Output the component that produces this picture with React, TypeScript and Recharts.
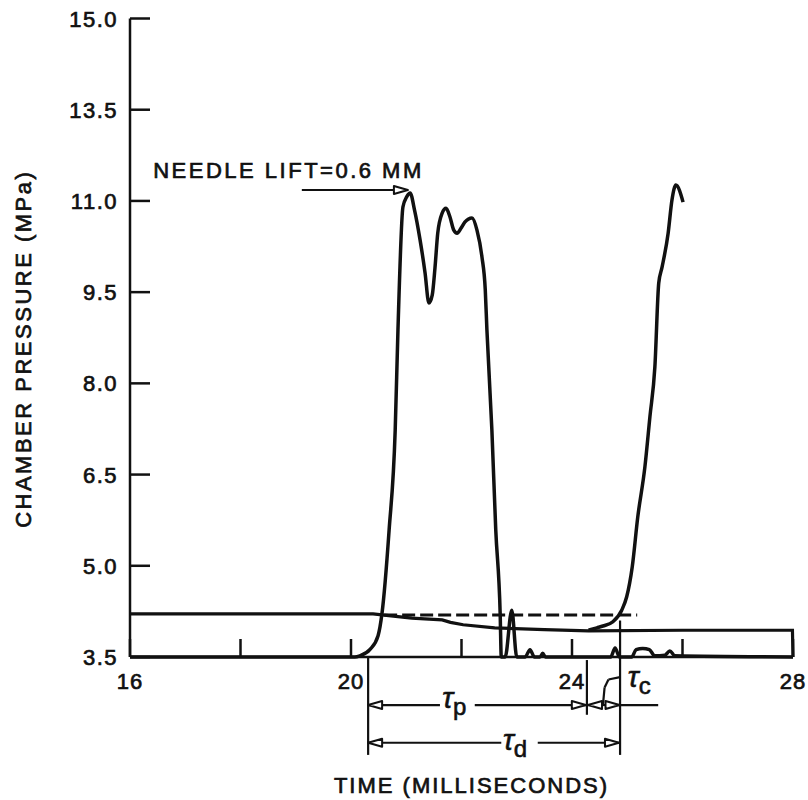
import React from "react"
import { LineChart, Line, XAxis, YAxis, ReferenceLine, ReferenceDot } from "recharts"

const FONT = "'Liberation Sans', Arial, Helvetica, sans-serif"
const INK = "#111"

// axes
const X_TICKS = [16, 18, 20, 22, 24, 26, 28]
const X_LABELS = [16, 20, 24, 28]
const Y_TICKS = [3.5, 5, 6.5, 8, 9.5, 11, 12.5, 14]
const Y_LABELS = ["3.5", "5.0", "6.5", "8.0", "9.5", "11.0", "13.5", "15.0"]

// chamber pressure, first injection (ms, MPa)
const PULSE_T = [
  16, 19.95, 20.07, 20.16, 20.34, 20.49, 20.56, 20.69, 20.8, 20.85, 20.94, 21.01, 21.07, 21.15,
  21.25, 21.34, 21.41, 21.47, 21.52, 21.57, 21.65, 21.72, 21.79, 21.86, 21.92, 21.99, 22.06,
  22.19, 22.28, 22.37, 22.43, 22.46, 22.55, 22.62, 22.7, 22.72, 22.79, 22.91, 23.0, 23.15,
  23.24, 23.32, 23.42, 23.47, 23.52, 24.7, 24.78, 24.86, 25.08, 25.16, 25.28, 25.4, 25.5,
  25.68, 25.77, 25.86, 28,
]
const PULSE_P = [
  3.5, 3.5, 3.5, 3.52, 3.62, 3.85, 4.21, 5.59, 7.23, 8.88, 10.9, 11.07, 11.13, 10.85,
  10.36, 9.82, 9.32, 9.45, 9.9, 10.47, 10.8, 10.88, 10.74, 10.52, 10.47, 10.55, 10.65,
  10.72, 10.52, 10.08, 9.54, 8.88, 7.23, 5.59, 4.21, 3.5, 3.5, 4.27, 3.5, 3.5,
  3.62, 3.5, 3.5, 3.56, 3.5, 3.5, 3.65, 3.5, 3.5, 3.62, 3.64, 3.62, 3.52,
  3.53, 3.6, 3.52, 3.5,
]

// chamber pressure, next injection rising edge
const RISE_T = [24.3, 24.45, 24.56, 24.74, 24.9, 24.99, 25.09, 25.19, 25.32, 25.41, 25.5, 25.57, 25.63, 25.74, 25.81, 25.88, 26.01]
const RISE_P = [3.94, 3.98, 4.01, 4.08, 4.27, 4.49, 4.98, 5.8, 6.63, 7.45, 8.27, 9.65, 9.91, 10.47, 11.02, 11.26, 10.98]

// needle lift trace
const NEEDLE_T = [16, 20.4, 20.6, 21.1, 21.65, 21.8, 22.03, 22.6, 23.5, 24.3, 26, 27.99, 28]
const NEEDLE_P = [4.21, 4.21, 4.19, 4.14, 4.11, 4.07, 4.03, 3.98, 3.95, 3.93, 3.94, 3.94, 3.5]

// dashed reference level
const LEVEL_T = [20.6, 25.18]
const LEVEL_P = [4.19, 4.19]

// interval markers (ms) and annotation rows (axis units)
const T_START = 20.31
const T_INJ_END = 24.27
const T_IGN = 24.87
const ROW_P = 2.71
const ROW_D = 2.09

const zip = (t: number[], p: number[]) => t.map((x, i) => ({ t: x, p: p[i] }))

const pulse = zip(PULSE_T, PULSE_P)
const rise = zip(RISE_T, RISE_P)
const needle = zip(NEEDLE_T, NEEDLE_P)
const level = zip(LEVEL_T, LEVEL_P)

// scanned lettering is heavier than regular Arial, so give it a thin outline
const txt = { fontFamily: FONT, fontSize: 22, fill: INK, stroke: INK, strokeWidth: 0.7 }

function XTick({ x, y, payload }: any) {
  const v = payload.value
  return (
    <g>
      <line x1={x} y1={y} x2={x} y2={y - 18} stroke={INK} strokeWidth={2.5} />
      {X_LABELS.includes(v) && (
        <text x={x} y={y + 32} textAnchor="middle" {...txt} letterSpacing={1}>{v}</text>
      )}
    </g>
  )
}

function YTick({ x, y, payload }: any) {
  const i = Y_TICKS.indexOf(payload.value)
  return (
    <g>
      <line x1={x} y1={y} x2={x + 20} y2={y} stroke={INK} strokeWidth={2.5} />
      <text x={x - 12} y={y + 8} textAnchor="end" {...txt} letterSpacing={1.5}>{Y_LABELS[i]}</text>
    </g>
  )
}

function YTitle(props: any) {
  const vb = props.viewBox ?? props
  const cx = vb.x + 31
  const cy = vb.y + vb.height / 2 + 11
  return (
    <text x={cx} y={cy} transform={`rotate(-90 ${cx} ${cy})`} textAnchor="middle" {...txt} letterSpacing={2.5}>
      CHAMBER PRESSURE (MPa)
    </text>
  )
}

function XTitle(props: any) {
  const vb = props.viewBox ?? props
  return (
    <text x={vb.x + vb.width / 2 + 10} y={vb.y + 136} textAnchor="middle" {...txt} letterSpacing={2}>
      TIME (MILLISECONDS)
    </text>
  )
}

const tau = (sub: string) => (p: any) => (
  <text x={p.cx} y={p.cy} fontFamily={FONT} fill={INK} stroke={INK} strokeWidth={0.6}>
    <tspan fontSize={29} fontStyle="italic">τ</tspan>
    <tspan fontSize={24} dy={7}>{sub}</tspan>
  </text>
)

const seg = (x1: number, y1: number, x2: number, y2: number, start = false, end = false) => (
  <ReferenceLine
    key={`${x1}-${y1}-${x2}-${y2}`}
    ifOverflow="visible"
    segment={[{ x: x1, y: y1 }, { x: x2, y: y2 }]}
    shape={(p: any) => (
      <line
        x1={p.x1} y1={p.y1} x2={p.x2} y2={p.y2}
        stroke={INK} strokeWidth={2.2}
        markerStart={start ? "url(#head)" : undefined}
        markerEnd={end ? "url(#head)" : undefined}
      />
    )}
  />
)

export default function App() {
  return (
    <div style={{ position: "absolute", left: 0, top: 0, width: 808, height: 800, background: "#fff" }}>
      <LineChart width={808} height={800} margin={{ top: 18.5, right: 15, left: 0, bottom: 113 }}>
        <defs>
          <marker id="head" viewBox="0 0 14 8" refX={14} refY={4} markerWidth={14} markerHeight={8}
            markerUnits="userSpaceOnUse" orient="auto-start-reverse" overflow="visible">
            <path d="M0,0 L14,4 L0,8 z" fill="#fff" stroke={INK} strokeWidth={2} strokeLinejoin="round" />
          </marker>
        </defs>
        <XAxis
          type="number"
          dataKey="t"
          domain={[16, 28]}
          ticks={X_TICKS}
          interval={0}
          height={30}
          tickSize={0}
          tickMargin={0}
          tick={<XTick />}
          axisLine={{ stroke: INK, strokeWidth: 2.5 }}
          tickLine={false}
          label={(p: any) => <XTitle {...p} />}
        />
        <YAxis
          type="number"
          dataKey="p"
          domain={[3.5, 14]}
          ticks={Y_TICKS}
          interval={0}
          width={130}
          tickSize={0}
          tickMargin={0}
          tick={<YTick />}
          axisLine={{ stroke: INK, strokeWidth: 2.5 }}
          tickLine={false}
          label={(p: any) => <YTitle {...p} />}
        />
        <Line data={level} dataKey="p" type="linear" stroke={INK} strokeWidth={3} strokeDasharray="13 5" dot={false} isAnimationActive={false} />
        <Line data={needle} dataKey="p" type="linear" stroke={INK} strokeWidth={3.2} dot={false} isAnimationActive={false} />
        <Line data={pulse} dataKey="p" type="monotone" stroke={INK} strokeWidth={3.5} strokeLinejoin="round" dot={false} isAnimationActive={false} />
        <Line data={rise} dataKey="p" type="monotone" stroke={INK} strokeWidth={3.5} strokeLinejoin="round" dot={false} isAnimationActive={false} />

        {/* needle lift callout */}
        <ReferenceDot x={16.42} y={11.38} ifOverflow="visible"
          shape={(p: any) => <text x={p.cx} y={p.cy} {...txt} letterSpacing={2.5}>NEEDLE LIFT=0.6 MM</text>} />
        {seg(19.11, 11.18, 21.03, 11.18, false, true)}

        {/* interval markers */}
        {seg(T_START, 3.5, T_START, 1.89)}
        {seg(T_INJ_END, 3.45, T_INJ_END, 2.55)}
        {seg(T_IGN, 4.1, T_IGN, 1.89)}
        {seg(T_START, ROW_P, 21.61, ROW_P, true, false)}
        {seg(22.24, ROW_P, T_INJ_END - 0.02, ROW_P, false, true)}
        {seg(T_INJ_END + 0.02, ROW_P, T_IGN - 0.01, ROW_P, true, true)}
        {seg(T_IGN, ROW_P, 25.56, ROW_P)}
        {seg(T_START, ROW_D, 22.72, ROW_D, true, false)}
        {seg(23.38, ROW_D, T_IGN - 0.02, ROW_D, false, true)}
        {seg(24.56, ROW_P, 24.59, 3.0)}
        {seg(24.59, 3.0, 24.66, 3.13)}
        {seg(24.66, 3.13, T_IGN, 3.17)}
        <ReferenceDot x={21.65} y={2.66} ifOverflow="visible" shape={tau("p")} />
        <ReferenceDot x={22.75} y={1.97} ifOverflow="visible" shape={tau("d")} />
        <ReferenceDot x={25.01} y={3.01} ifOverflow="visible" shape={tau("c")} />
      </LineChart>
    </div>
  )
}
